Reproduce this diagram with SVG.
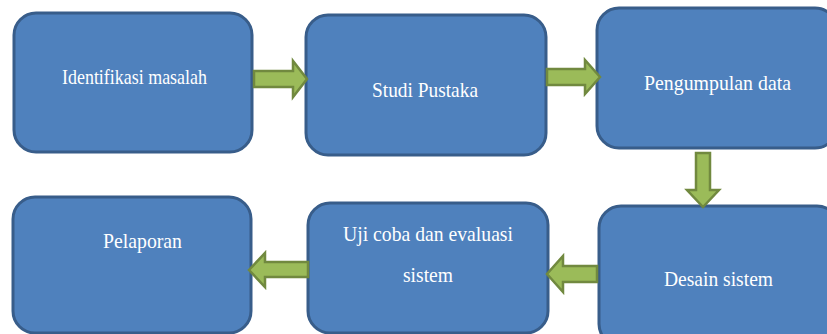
<svg xmlns="http://www.w3.org/2000/svg" width="827" height="334" viewBox="0 0 827 334">
<style>
.box{fill:#4F81BD;stroke:#385D8A;stroke-width:3}
.lbl{font-family:"Liberation Serif","Times New Roman",serif;font-size:21px;fill:#FFFFFF;text-anchor:middle}
.arr{fill:#9BBB59;stroke:#71893F;stroke-width:2.5;stroke-linejoin:miter}
</style>
<rect width="827" height="334" fill="#FFFFFF"/>
<g id="node-identifikasi">
<rect class="box" x="14" y="13" width="238" height="139" rx="22"/>
<text class="lbl" x="134.5" y="84" textLength="145" lengthAdjust="spacingAndGlyphs">Identifikasi masalah</text>
</g>
<g id="node-studi">
<rect class="box" x="306" y="15" width="240" height="140" rx="22"/>
<text class="lbl" x="425" y="97" textLength="106" lengthAdjust="spacingAndGlyphs">Studi Pustaka</text>
</g>
<g id="node-pengumpulan">
<rect class="box" x="597" y="8" width="240" height="140" rx="22"/>
<text class="lbl" x="717.5" y="90" textLength="147" lengthAdjust="spacingAndGlyphs">Pengumpulan data</text>
</g>
<g id="node-desain">
<rect class="box" x="599" y="206" width="240" height="140" rx="22"/>
<text class="lbl" x="718.5" y="286" textLength="109" lengthAdjust="spacingAndGlyphs">Desain sistem</text>
</g>
<g id="node-uji">
<rect class="box" x="308" y="203" width="240" height="130" rx="22"/>
<text class="lbl" x="428" y="241" textLength="170" lengthAdjust="spacingAndGlyphs">Uji coba dan evaluasi</text>
<text class="lbl" x="428" y="282" textLength="50" lengthAdjust="spacingAndGlyphs">sistem</text>
</g>
<g id="node-pelaporan">
<rect class="box" x="13" y="197" width="238" height="136" rx="22"/>
<text class="lbl" x="142.5" y="248" textLength="79" lengthAdjust="spacingAndGlyphs">Pelaporan</text>
</g>
<g id="connectors">
<polygon class="arr" points="254,71 293,71 293,61 307,79 293,97 293,87 254,87"/>
<polygon class="arr" points="547,69 585,69 585,60 600,77 585,94 585,85 547,85"/>
<polygon class="arr" points="696,153 710,153 710,190 719,190 703,207 687,190 696,190"/>
<polygon class="arr" points="597,266 563,266 563,256 547,274 563,292 563,282 597,282"/>
<polygon class="arr" points="308,262 265,262 265,253 249,270 265,287 265,277 308,277"/>
</g>
</svg>
